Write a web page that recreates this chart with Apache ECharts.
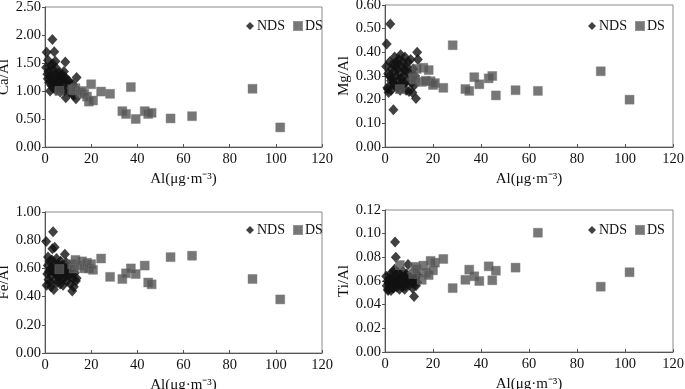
<!DOCTYPE html>
<html>
<head>
<meta charset="utf-8">
<script src="https://cdn.jsdelivr.net/npm/echarts@6/dist/echarts.min.js"></script>
<style>
html,body{margin:0;padding:0;background:#fff;}
#chart{width:685px;height:389px;}
</style>
</head>
<body>
<div id="chart"></div>
<script>
// ---- data ----
var ndsAl = [0.5,0.7,1.0,1.2,1.5,1.8,2.0,2.2,2.5,2.8,3.0,3.2,3.5,3.6,3.8,4.0,4.2,4.5,4.6,4.8,5.0,5.3,5.5,5.8,6.0,6.3,6.5,6.8,7.0,7.3,7.5,7.8,8.0,8.3,8.6,8.8,9.0,9.3,9.6,10.0,10.3,10.7,11.0,11.4,11.8,12.1,12.5,12.9,13.4,13.7,1.3,2.6,3.3,5.1,6.6,8.2];
var ndsCa = [1.42,1.69,1.30,1.22,1.35,1.15,1.25,1.00,1.45,1.10,1.28,1.92,1.38,1.05,1.20,1.70,1.12,1.53,1.30,1.02,1.40,1.18,1.25,1.08,1.32,1.15,1.22,1.28,1.05,1.18,1.30,1.12,1.22,1.00,1.25,1.52,0.88,1.15,1.20,1.05,1.18,0.98,1.10,1.02,0.95,1.12,0.92,1.05,0.86,1.24,1.55,1.18,1.48,1.12,0.98,1.35];
var ndsMg = [0.34,0.435,0.25,0.245,0.23,0.30,0.36,0.52,0.28,0.33,0.29,0.35,0.157,0.27,0.32,0.38,0.26,0.34,0.30,0.36,0.25,0.33,0.28,0.37,0.31,0.24,0.39,0.29,0.34,0.26,0.36,0.30,0.27,0.38,0.32,0.24,0.34,0.28,0.36,0.235,0.31,0.37,0.27,0.23,0.33,0.26,0.30,0.205,0.40,0.37,0.31,0.24,0.27,0.35,0.27,0.33];
var ndsFe = [0.79,0.48,0.56,0.62,0.52,0.58,0.65,0.50,0.60,0.55,0.66,0.74,0.86,0.58,0.45,0.63,0.75,0.52,0.56,0.61,0.67,0.50,0.58,0.63,0.54,0.60,0.56,0.65,0.52,0.58,0.62,0.48,0.57,0.53,0.70,0.60,0.55,0.64,0.51,0.58,0.55,0.62,0.49,0.56,0.44,0.53,0.47,0.57,0.51,0.53,0.68,0.47,0.60,0.55,0.49,0.59];
var ndsTi = [0.064,0.056,0.060,0.053,0.058,0.062,0.055,0.066,0.052,0.059,0.063,0.057,0.068,0.054,0.061,0.070,0.093,0.080,0.058,0.064,0.055,0.062,0.067,0.059,0.053,0.061,0.065,0.057,0.063,0.055,0.068,0.060,0.058,0.064,0.056,0.062,0.066,0.059,0.074,0.061,0.057,0.063,0.060,0.054,0.058,0.047,0.062,0.056,0.059,0.065,0.052,0.060,0.054,0.060,0.058,0.053];

var dsAl = [6.2,11.8,12.5,13.2,15.3,16.0,17.0,18.2,19.0,20.0,20.8,24.3,28.2,33.5,35.1,37.2,39.3,43.2,44.7,46.2,54.4,63.7,89.9,101.9];
var dsCa = [1.00,1.03,1.01,1.05,0.97,1.00,0.95,0.90,0.81,1.12,0.83,0.99,0.95,0.64,0.59,1.07,0.50,0.64,0.59,0.61,0.51,0.55,1.04,0.35];
var dsMg = [0.244,0.29,0.285,0.33,0.275,0.335,0.28,0.325,0.278,0.262,0.27,0.25,0.43,0.245,0.237,0.295,0.265,0.29,0.30,0.218,0.24,0.237,0.32,0.20];
var dsFe = [0.595,0.63,0.60,0.66,0.62,0.65,0.60,0.64,0.60,0.63,0.59,0.67,0.54,0.525,0.565,0.60,0.56,0.62,0.50,0.487,0.68,0.69,0.525,0.38];
var dsTi = [0.0735,0.066,0.072,0.070,0.061,0.073,0.067,0.065,0.077,0.069,0.0755,0.0786,0.054,0.061,0.0696,0.064,0.060,0.0724,0.0606,0.0687,0.0713,0.1008,0.0552,0.0674];

var panelNames = ['Ca/Al','Mg/Al','Fe/Al','Ti/Al'];
var yMax = [2.5,0.6,1.0,0.12];
var yStep = [0.5,0.1,0.2,0.02];
var xName = 'Al(\u03bcg\u00b7m\u207b\u00b3)';
var xMax = 120, xStep = 20;

// ---- layout ----
var FONT = 'Liberation Serif';
var grids = [
  {left:45, top:7, width:277, height:140},
  {left:385, top:5, width:288, height:142},
  {left:45, top:212, width:277, height:141},
  {left:385, top:210, width:288, height:142}
];
var legendPos = [{left:246,top:19},{left:588,top:19},{left:246,top:223},{left:588,top:223}];

function zip(a,b){return a.map(function(v,i){return [v,b[i]];});}
var ndsY = [ndsCa,ndsMg,ndsFe,ndsTi];
var dsY = [dsCa,dsMg,dsFe,dsTi];

var option = {
  backgroundColor:'#fff',
  animation:false,
  grid: grids.map(function(g){return Object.assign({show:true,borderColor:'#8a8a8a',borderWidth:1,backgroundColor:'transparent',containLabel:false,outerBoundsMode:'none'},g);}),
  legend: legendPos.map(function(p){
    return {left:p.left, top:p.top, padding:0, itemWidth:8, itemHeight:8, itemGap:8, selectedMode:false,
      textStyle:{fontFamily:FONT,fontSize:14,color:'#111',padding:[0,0,0,-2]},
      data:[{name:'NDS',icon:'diamond',itemStyle:{color:'#111'}},{name:'DS',icon:'rect',itemStyle:{color:'#555'}}]};
  }),
  xAxis: grids.map(function(g,i){
    return {type:'value', gridIndex:i, min:0, max:xMax, interval:xStep,
      name:xName, nameLocation:'middle', nameGap:25,
      nameTextStyle:{fontFamily:FONT,fontSize:15,color:'#111'},
      axisLine:{lineStyle:{color:'#555',width:1}},
      axisTick:{show:true,inside:true,length:3,lineStyle:{color:'#555'}},
      axisLabel:{fontFamily:FONT,fontSize:14.5,color:'#111',margin:5},
      splitLine:{show:false}};
  }),
  yAxis: grids.map(function(g,i){
    return {type:'value', gridIndex:i, min:0, max:yMax[i], interval:yStep[i],
      name:panelNames[i], nameLocation:'middle', nameGap:33,
      nameTextStyle:{fontFamily:FONT,fontSize:15,color:'#111'},
      axisLine:{show:true,lineStyle:{color:'#555',width:1}},
      axisTick:{show:true,inside:false,length:3,lineStyle:{color:'#555'}},
      axisLabel:{fontFamily:FONT,fontSize:14.5,color:'#111',margin:4,
        formatter:function(v){return v.toFixed(2);}},
      splitLine:{show:false}};
  }),
  series: []
};
for (var i=0;i<4;i++){
  option.series.push({name:'NDS', type:'scatter', xAxisIndex:i, yAxisIndex:i,
    symbol:'diamond', symbolSize:[10,11], itemStyle:{color:'#111'},
    data:zip(ndsAl, ndsY[i]), z:2});
  option.series.push({name:'DS', type:'scatter', xAxisIndex:i, yAxisIndex:i,
    symbol:'rect', symbolSize:9, itemStyle:{color:'#555', borderColor:'#777', borderWidth:0.5},
    data:zip(dsAl, dsY[i]), z:3});
}
var chart = echarts.init(document.getElementById('chart'), null, {renderer:'canvas'});
chart.setOption(option);
</script>
</body>
</html>
